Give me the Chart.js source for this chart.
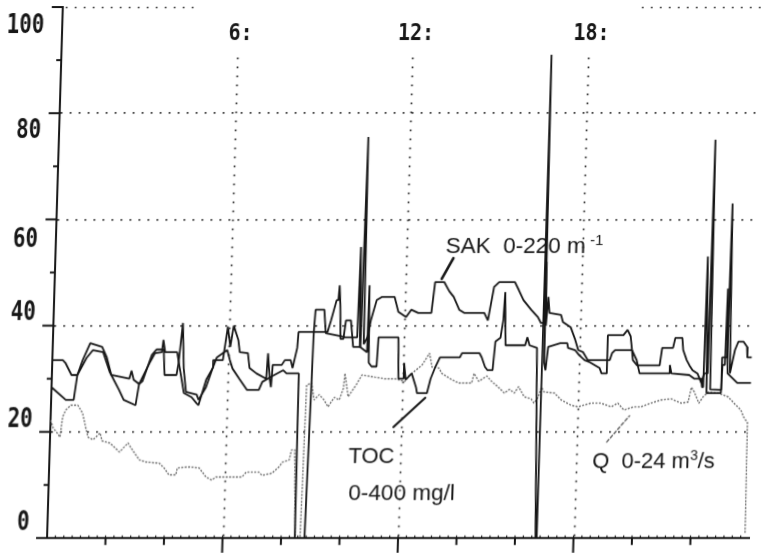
<!DOCTYPE html>
<html><head><meta charset="utf-8">
<script src="https://cdn.jsdelivr.net/npm/chart.js@4.4.1/dist/chart.umd.min.js"></script>
<style>
html,body{margin:0;padding:0;background:#fff;overflow:hidden;width:763px;height:553px}
#wrap{position:absolute;left:-20px;top:0;width:783px;height:553px;transform:skewX(-1.7deg);transform-origin:67px 538px}
canvas{display:block}
</style></head><body>
<div id="wrap"><canvas id="c" width="783" height="553"></canvas></div>
<script>
// ---------------- data (hours, % of range) ----------------
const sakHours = [0,0.36,0.45,0.67,0.87,1.04,1.28,1.69,1.86,2.03,2.65,2.72,2.8,2.99,3.1,3.4,3.55,3.8,3.85,4.26,4.32,4.43,4.5,4.6,4.97,5.04,5.28,5.49,5.5,5.83,5.97,6.07,6.17,6.34,6.4,6.68,6.75,6.99,7.33,7.37,7.45,7.5,7.54,7.85,7.95,8.15,8.22,8.36,8.39,9.38,9.49,9.66,9.72,9.75,9.79,9.83,9.93,10.0,10.17,10.27,10.52,10.58,10.63,10.75,10.85,11.03,11.2,11.64,11.78,12.05,12.22,12.46,12.91,13.01,13.32,13.5,13.66,13.86,14.03,14.72,14.85,15.03,15.2,15.74,15.88,16.05,16.32,16.56,16.67,16.77,16.8,16.84,16.9,16.95,17.35,17.42,17.69,17.86,17.97,18.14,18.31,19.06,19.13,19.23,19.81,19.85,20.0,20.77,20.84,21.21,21.28,21.52,21.56,21.69,21.79,21.9,22.07,22.21,22.3,22.42,22.45,22.52,22.89,22.9,23.07,23.1,23.18,23.33,23.44,23.61,23.74,23.76,23.91];
const sakValues = [33.5,33.5,33,30.7,30.7,33.5,36.7,36,34,30.7,30,31.5,29.8,29,29.5,34.5,35.5,35.5,30.7,30.7,33,40.5,32,27.5,27,26,28.4,32,33.5,33.5,39.8,36,40,37.3,35,34.8,32,31,30,34.8,30,28.4,32.6,32.6,33.5,33.5,32,35.8,38.8,38.8,41,44.8,44.8,47.6,44,37.5,37.5,41,41,36,36,75.5,36.5,37.8,41,44.8,45.4,45.4,42.6,41.6,43,42.4,42.4,48.2,48.2,46.5,45.4,43,42.4,42.4,41,47.3,48.2,48.2,46.7,44.8,43,41.6,40.5,40.5,52,40,45.4,42.4,42,40.7,39.7,37.3,35.4,35,33.5,33.5,34.8,35.4,35.4,33.5,32.5,32.5,35.8,35.8,37.7,37.7,35.4,33.5,32.5,31.6,31,29.2,31,31,75,28,27.9,34,34,63,31,35.4,37,37,36,34,34];

const tocHours = [0,0.5,0.77,0.87,1.18,1.38,1.73,1.97,2.31,2.48,2.89,2.99,3.33,3.5,3.74,3.78,3.85,4.26,4.4,4.53,4.8,4.97,5.04,5.28,5.49,5.62,5.97,6.07,6.17,6.41,6.68,7.09,7.2,7.54,7.9,8.02,8.44,8.47,8.8,8.91,8.95,9.25,9.32,9.83,10.0,10.4,10.44,10.5,10.75,10.77,10.82,10.92,11.09,11.13,11.81,11.85,12.0,12.03,12.1,12.3,12.46,12.5,12.84,12.95,13.1,13.25,13.93,14.0,14.6,14.68,14.8,14.89,15.06,15.13,15.3,15.38,15.42,15.48,16.15,16.22,16.3,16.56,16.7,16.74,16.76,16.82,16.87,16.94,17.35,17.59,17.62,17.86,18.0,18.2,18.38,18.72,18.79,18.96,18.97,19.5,19.64,19.75,19.81,19.98,20.09,21.1,21.12,21.18,21.79,21.97,22.2,22.24,22.28,22.31,22.4,22.89,22.92,23.0,23.03,23.1,23.44,23.91];
const tocValues = [28.4,26,26,30.7,34,35.4,35,31.3,27.9,26,25,29,33,34.8,35,37.3,35,35,31,27.3,26.5,25.4,25,29.8,32,34,35.4,33.5,31.9,30,27.9,27.9,29.4,30.5,31.6,31,31,0,0,38.6,43,43,38.6,38,37.8,37.8,54.8,36,35,47.6,33,32.3,32.3,37.8,37.8,30,30,33,29.8,31,28.4,27.3,27.3,30,32.2,34,34,34.8,34.8,34,32.2,31.6,31.6,37,37.7,41,46.3,36.3,36.3,37.8,36.3,35.8,0,0,91,33,31.6,36,36.7,36.7,35.8,35.4,34.5,33.5,33.1,32,31,31,38.2,38.2,39.2,38,35.4,33.5,31,31,32.6,31,30.7,30,30,28.4,28.4,53,27.3,27.3,32.6,32.6,47,31,29.2,29.2];

const qHours = [0,0.1,0.24,0.34,0.41,0.51,0.68,0.92,1.09,1.2,1.3,1.47,1.71,1.78,2.05,2.39,2.67,2.84,3.08,3.32,3.76,3.93,4.1,4.34,4.38,4.79,5.13,5.37,5.57,5.71,6.6,6.74,7.18,7.28,7.62,7.86,7.97,8.2,8.27,8.38,8.48,8.65,8.72,8.89,8.99,9.16,9.33,9.47,9.68,9.85,9.98,10.02,10.15,10.43,10.6,11.04,11.38,11.73,12.07,12.2,12.65,12.89,12.99,13.23,13.33,13.68,13.91,14.36,14.43,14.6,14.87,15.04,15.28,15.49,15.66,15.83,15.97,16.17,16.41,16.51,16.65,16.75,16.85,17.2,17.44,17.78,18.02,18.46,18.8,19.15,19.38,19.59,19.93,20.17,20.51,20.85,21.2,21.54,21.78,21.88,21.98,22.15,22.29,22.46,22.8,23.14,23.35,23.59,23.69,23.83,23.86];
const qValues = [22.2,20.7,19.8,19,22.8,24.1,25,25,23.5,21,19,18.5,19.8,18.3,17.9,16.2,17.9,16.5,14.7,14.3,14.1,13.2,11.9,11.9,13.2,13.4,13.2,11.5,10.9,11.5,11.5,12.4,12.4,11.8,12.2,13.4,14.3,14.7,16.6,16.6,0,0,28.8,29.2,26,27,26,24.7,26.5,26,28.2,31,26.6,29,30.7,30.3,30,30,29.5,30.5,32.6,34.8,32.2,32,31,29.8,29.2,29.2,31,29.5,30.5,29.5,28.4,27.3,28,27.3,28.5,26.6,26.2,25.4,26.5,28.4,27.5,27.3,26,25,24.7,25.4,25.4,24.7,25.4,24.1,24.7,24.7,25.4,26,26.2,25.4,25.6,28.4,27.5,25.4,26.6,27.5,27.3,26.6,25.4,24.1,22.8,21.7,1];

const yTickValues = [0, 20, 40, 60, 80, 100];
const yTickLabels = ['0', '20', '40', '60', '80', '100'];
const topTickHours = [6, 12, 18];
const topTickLabels = ['6:', '12:', '18:'];

// ---------------- styling ----------------
const INK = '#161616';
const GRID = '#2a2a2a';
const yLabelDy = {0: -15, 20: -12, 40: -12, 60: 21, 80: 18, 100: 19};

function toXY(hs, vs) { return hs.map((h, i) => ({x: h, y: vs[i]})); }

const decor = {
  id: 'decor',
  beforeDatasetsDraw(chart) {
    const {ctx, scales: {x, y}} = chart;
    ctx.save();
    ctx.strokeStyle = GRID; ctx.lineWidth = 1.7; ctx.setLineDash([1.7, 7.3]);
    for (const h of topTickHours) {
      const px = Math.round(x.getPixelForValue(h)) + 0.5;
      ctx.beginPath(); ctx.moveTo(px, y.getPixelForValue(90.5)); ctx.lineTo(px, y.getPixelForValue(0)); ctx.stroke();
    }
    for (const [a, b] of [[0.1, 4.7], [19.8, 24]]) {
      const py = y.getPixelForValue(100) + 0.5;
      ctx.beginPath(); ctx.moveTo(x.getPixelForValue(a), py); ctx.lineTo(x.getPixelForValue(b), py); ctx.stroke();
    }
    ctx.restore();
  },
  afterDraw(chart) {
    const {ctx, chartArea: ca, scales: {x, y}} = chart;
    ctx.save();
    ctx.strokeStyle = INK; ctx.fillStyle = INK; ctx.lineWidth = 2; ctx.setLineDash([]);
    for (let v = 0; v <= 100; v += 10) {
      const py = y.getPixelForValue(v);
      const len = v % 20 === 0 ? 11 : 5;
      ctx.beginPath(); ctx.moveTo(ca.left - len, py); ctx.lineTo(ca.left, py); ctx.stroke();
    }
    for (let h = 2; h < 24; h += 2) {
      const px = x.getPixelForValue(h);
      const len = h % 6 === 0 ? 15 : 7;
      ctx.beginPath(); ctx.moveTo(px, ca.bottom); ctx.lineTo(px, ca.bottom + len); ctx.stroke();
    }
    ctx.lineWidth = 1.2;
    for (let k = 1; k < 84; k++) {
      const px = x.getPixelForValue(k * 2 / 7);
      ctx.beginPath(); ctx.moveTo(px, ca.bottom); ctx.lineTo(px, ca.bottom - 2.5); ctx.stroke();
    }
    ctx.font = "bold 26px 'DejaVu Sans Mono', monospace";
    ctx.textAlign = 'right'; ctx.textBaseline = 'middle';
    yTickValues.forEach((v, i) => {
      ctx.save();
      ctx.translate(ca.left - 18, y.getPixelForValue(v) + yLabelDy[v]);
      ctx.scale(0.8, 1);
      ctx.fillText(yTickLabels[i], 0, 0);
      ctx.restore();
    });
    ctx.font = "bold 23px 'DejaVu Sans Mono', monospace";
    ctx.textAlign = 'center';
    topTickHours.forEach((h, i) => {
      ctx.save();
      ctx.translate(x.getPixelForValue(h) + 3, y.getPixelForValue(95));
      ctx.scale(0.87, 1);
      ctx.fillText(topTickLabels[i], 0, 0);
      ctx.restore();
    });
    const sans = "'Liberation Sans', Arial, sans-serif";
    const rich = (h, v, parts) => {
      let px = x.getPixelForValue(h); const py = y.getPixelForValue(v);
      ctx.textAlign = 'left'; ctx.textBaseline = 'alphabetic';
      for (const [t, size, dy] of parts) {
        ctx.font = size + 'px ' + sans;
        ctx.fillText(t, px, py + dy);
        px += ctx.measureText(t).width;
      }
    };
    rich(13.33, 53.7, [['SAK  0-220 m', 22.5, 0], [' -1', 15, -8]]);
    rich(10.22, 14.1, [['TOC', 22, 0]]);
    rich(10.26, 7.2, [['0-400 mg/l', 22.5, 0]]);
    rich(18.56, 13.2, [['Q  0-24 m', 22, 0], ['3', 14, -8], ['/s', 22, 0]]);
    const seg = (h1, v1, h2, v2, w, col, dash) => {
      ctx.save(); ctx.strokeStyle = col; ctx.lineWidth = w; ctx.setLineDash(dash); ctx.lineCap = 'round';
      ctx.beginPath(); ctx.moveTo(x.getPixelForValue(h1), y.getPixelForValue(v1));
      ctx.lineTo(x.getPixelForValue(h2), y.getPixelForValue(v2)); ctx.stroke(); ctx.restore();
    };
    seg(13.23, 48.8, 13.61, 52.7, 2.6, INK, []);
    seg(11.73, 20.9, 12.79, 26.4, 2.2, INK, []);
    seg(19.04, 18.1, 19.79, 23.0, 1.5, '#666', [3, 2.5]);
    ctx.restore();
  }
};

new Chart(document.getElementById('c'), {
  type: 'line',
  data: {
    datasets: [
      {label: 'SAK 0-220 m-1', data: toXY(sakHours, sakValues), borderColor: INK, borderWidth: 1.8, pointRadius: 0, tension: 0, borderJoinStyle: 'bevel'},
      {label: 'TOC 0-400 mg/l', data: toXY(tocHours, tocValues), borderColor: INK, borderWidth: 1.8, pointRadius: 0, tension: 0, borderJoinStyle: 'bevel'},
      {label: 'Q 0-24 m3/s', data: toXY(qHours, qValues), borderColor: '#6e6e6e', borderWidth: 1.4, borderDash: [2, 1.4], pointRadius: 0, tension: 0, borderJoinStyle: 'bevel'}
    ]
  },
  options: {
    responsive: false, animation: false, devicePixelRatio: 1,
    layout: {padding: {top: 7, right: 14, left: 20, bottom: 0}},
    plugins: {legend: {display: false}, tooltip: {enabled: false}},
    scales: {
      x: {type: 'linear', min: 0, max: 24,
          afterFit(s) { s.height = 15; },
          ticks: {display: false, stepSize: 2},
          grid: {display: false, drawTicks: false},
          border: {display: true, color: INK, width: 2}},
      y: {type: 'linear', min: 0, max: 100,
          afterFit(s) { s.width = 47; },
          ticks: {display: false, stepSize: 20},
          grid: {drawTicks: false, lineWidth: 1.7,
                 color: c => (c.tick && c.tick.value > 0 && c.tick.value < 100) ? GRID : 'rgba(0,0,0,0)'},
          border: {display: true, color: INK, width: 2, dash: [1.7, 7.3]}}
    }
  },
  plugins: [decor]
});
</script></body></html>
